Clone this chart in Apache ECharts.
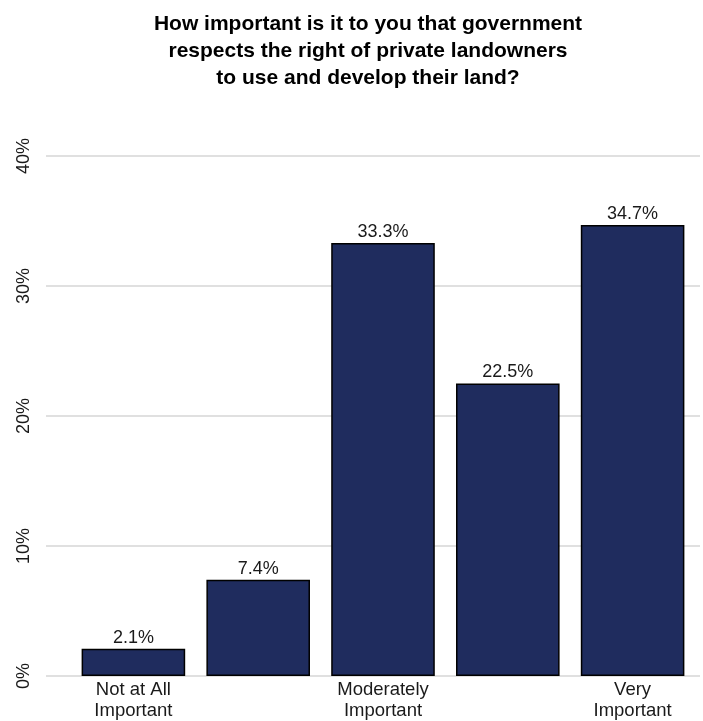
<!DOCTYPE html>
<html>
<head>
<meta charset="utf-8">
<script src="https://cdn.jsdelivr.net/npm/echarts@6/dist/echarts.min.js"></script>
<style>
  html, body { margin: 0; padding: 0; background: #fff; }
  #chart { width: 703px; height: 721px; }
</style>
</head>
<body>
<div id="chart"></div>
<script>
// Survey responses, share of respondents (%)
const categories = ['1', '2', '3', '4', '5'];
const categoryLabels = ['Not at All\nImportant', '', 'Moderately\nImportant', '', 'Very\nImportant'];
const shares = [2.1, 7.4, 33.3, 22.5, 34.7];
const yTicks = [0, 10, 20, 30, 40];

const FONT = '"Liberation Sans", Arial, Helvetica, sans-serif';

const chart = echarts.init(document.getElementById('chart'), null, { renderer: 'canvas' });

chart.setOption({
  animation: false,
  backgroundColor: '#ffffff',
  title: {
    text: 'How important is it to you that government\nrespects the right of private landowners\nto use and develop their land?',
    // centred over the plot area rather than the whole canvas
    left: 363,
    textAlign: 'center',
    top: 6,
    textStyle: {
      fontFamily: FONT,
      fontWeight: 'bold',
      fontSize: 21,
      lineHeight: 27,
      color: '#000'
    }
  },
  grid: [
    // wide grid carrying the horizontal gridlines and y labels
    { left: 46, right: 3, top: 156, bottom: 45 },
    // inner grid holding the bars
    { left: 71, right: 8, top: 156, bottom: 45 }
  ],
  xAxis: [
    { gridIndex: 0, type: 'value', min: 0, max: 1, show: false },
    {
      gridIndex: 1,
      type: 'category',
      data: categories,
      axisLine: { show: false },
      axisTick: { show: false },
      axisLabel: {
        interval: 0,
        margin: 3,
        fontFamily: FONT,
        fontSize: 18.5,
        lineHeight: 21,
        color: '#1a1a1a',
        formatter: (v, i) => categoryLabels[i]
      }
    }
  ],
  yAxis: [
    {
      gridIndex: 0,
      type: 'value',
      min: yTicks[0],
      max: yTicks[yTicks.length - 1],
      interval: 10,
      axisLine: { show: false },
      axisTick: { show: false },
      splitLine: { show: true, lineStyle: { color: '#d6d6d6', width: 1.5 } },
      axisLabel: {
        rotate: 90,
        margin: 13,
        fontFamily: FONT,
        fontSize: 18,
        color: '#1a1a1a',
        formatter: v => v + '%'
      }
    },
    {
      gridIndex: 1,
      type: 'value',
      min: yTicks[0],
      max: yTicks[yTicks.length - 1],
      interval: 10,
      show: false,
      splitLine: { show: false }
    }
  ],
  series: [
    {
      type: 'bar',
      xAxisIndex: 1,
      yAxisIndex: 1,
      data: shares,
      barCategoryGap: '17%',
      itemStyle: {
        color: '#1f2c5e',
        borderColor: '#000000',
        borderWidth: 1.5
      },
      label: {
        show: true,
        position: 'top',
        distance: 2,
        fontFamily: FONT,
        fontSize: 18,
        color: '#1a1a1a',
        formatter: p => p.value.toFixed(1) + '%'
      }
    }
  ]
});
</script>
</body>
</html>
